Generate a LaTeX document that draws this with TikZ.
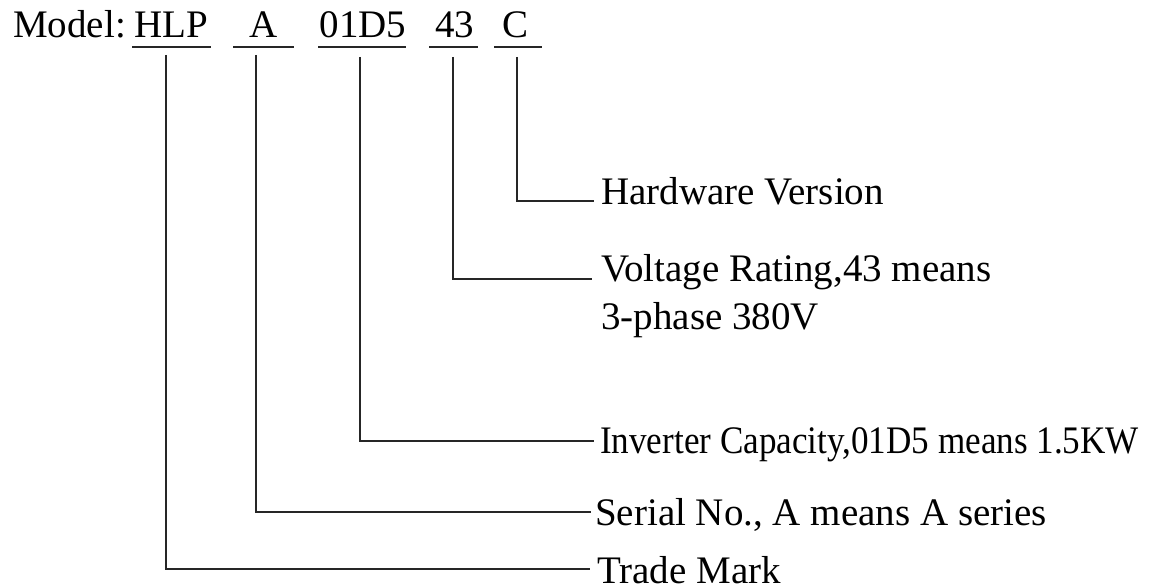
\documentclass[tikz,border=0pt]{standalone}
\usepackage{fontspec}
\setmainfont{Liberation Serif}
\newfontfamily\condfont[FakeStretch=0.9]{Liberation Serif}
\begin{document}
\begin{tikzpicture}[x=1pt,y=-1pt,
  txt/.style={inner sep=0pt, font=\fontsize{39}{47}\selectfont, text=black},
  ctxt/.style={inner sep=0pt, font=\fontsize{39}{47}\selectfont\condfont, text=black},
  ln/.style={line width=1.3pt, draw=black!85}]
\useasboundingbox (0,0) rectangle (1149,588);
% model code
\node[txt, anchor=base west] (model) at (13,38) {Model:};
\node[txt, anchor=base] (hlp) at (171.5,38) {HLP};
\node[txt, anchor=base] (ser) at (263.5,38) {A};
\node[txt, anchor=base] (cap) at (363,38) {01D5};
\node[txt, anchor=base] (volt) at (454.5,38) {43};
\node[txt, anchor=base] (hwv) at (516,38) {C};
% underlines
\draw[ln] (132,47) -- (211,47);
\draw[ln] (233,47) -- (294,47);
\draw[ln] (318,47) -- (406,47);
\draw[ln] (429,47) -- (478,47);
\draw[ln] (494,47) -- (542,47);
% connector start points
\coordinate (tHlp) at (166,55);
\coordinate (tSer) at (256,55);
\coordinate (tCap) at (360,57);
\coordinate (tVolt) at (453,57);
\coordinate (tHw) at (517,57);
% labels
\node[txt, anchor=base west] (lHw) at (601,205) {Hardware Version};
\node[txt, anchor=base west] (lVolt) at (601,282) {Voltage Rating,43 means};
\node[txt, anchor=base west] (lVolt2) at (601,329) {3-phase 380V};
\node[ctxt, anchor=base west] (lCap) at (600,453) {Inverter Capacity,01D5 means 1.5KW};
\node[txt, anchor=base west] (lSer) at (595,525) {Serial No., A means A series};
\node[txt, anchor=base west] (lHlp) at (597,583) {Trade Mark};
% connectors
\draw[ln] (tHw) |- ([xshift=-7pt,yshift=4pt]lHw.base west);
\draw[ln] (tVolt) |- ([xshift=-9pt,yshift=3pt]lVolt.base west);
\draw[ln] (tCap) |- ([xshift=-6pt,yshift=12pt]lCap.base west);
\draw[ln] (tSer) |- ([xshift=-4pt,yshift=13pt]lSer.base west);
\draw[ln] (tHlp) |- ([xshift=-7pt,yshift=14pt]lHlp.base west);
\end{tikzpicture}
\end{document}
